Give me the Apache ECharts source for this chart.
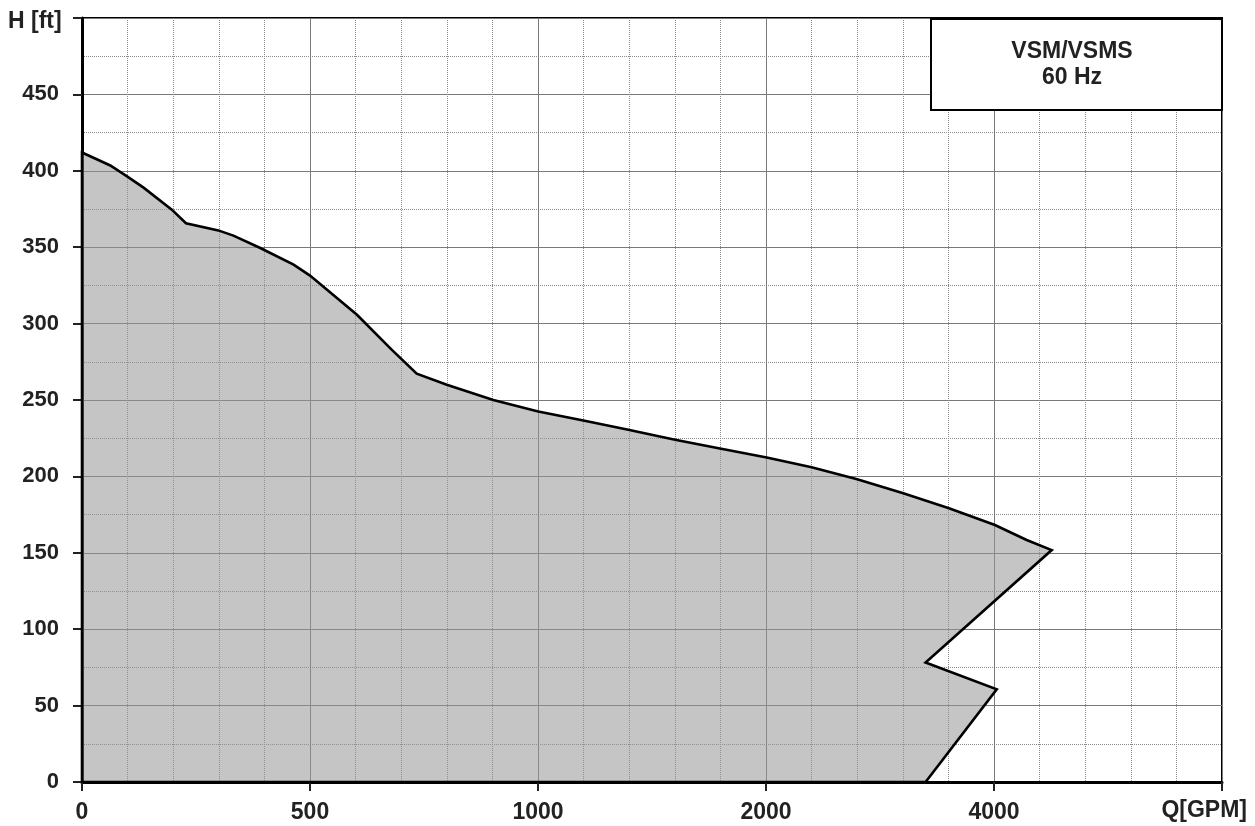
<!DOCTYPE html>
<html>
<head>
<meta charset="utf-8">
<script src="https://cdn.jsdelivr.net/npm/echarts@6/dist/echarts.min.js"></script>
<style>
html,body{margin:0;padding:0;background:#fff;}
#chart{width:1255px;height:826px;}
</style>
</head>
<body>
<div id="chart"></div>
<script>
// Flow axis break values (GPM): each consecutive pair occupies one equal-width axis segment
const flowBreaks = [0, 500, 1000, 2000, 4000, 8000];
const flowTickLabels = ['0', '500', '1000', '2000', '4000', ''];
const headTicks = [0, 50, 100, 150, 200, 250, 300, 350, 400, 450];

// Operating envelope outline (Q in GPM, H in ft), traced clockwise
const flowGPM = [0, 62, 98, 135, 197, 228, 299, 332, 391, 464, 500, 603, 679, 734, 800, 902, 1001, 1199, 1396, 1601, 1798, 2006, 2400, 2800, 3204, 3605, 4016, 4573, 5012, 3400, 4048, 3400, 0];
const headFt  = [412, 403.5, 396.5, 389, 374.6, 365.7, 361, 357.6, 349.5, 338.6, 331.4, 305.8, 283, 267.2, 260, 250, 242.5, 236.6, 230.5, 224, 218.2, 212.4, 206, 198.2, 189, 179.2, 168.2, 158.4, 151.8, 78.2, 60.7, 0, 0];

// piecewise scale: GPM -> axis segment units
function toAxis(q) {
  for (let i = 0; i < flowBreaks.length - 1; i++) {
    const a = flowBreaks[i], b = flowBreaks[i + 1];
    if (q <= b || i === flowBreaks.length - 2) return i + (q - a) / (b - a);
  }
}
const pts = flowGPM.map((q, i) => [toAxis(q), headFt[i]]);

const FONT = '"Liberation Sans", Arial, sans-serif';
const chart = echarts.init(document.getElementById('chart'), null, {renderer: 'canvas'});
chart.setOption({
  animation: false,
  backgroundColor: '#fff',
  grid: {left: 82, right: 33, top: 18, bottom: 44, show: true, borderColor: '#000', borderWidth: 2, backgroundColor: 'transparent'},
  xAxis: {
    type: 'value', min: 0, max: flowBreaks.length - 1, interval: 1,
    axisLine: {show: true, onZero: false, lineStyle: {color: '#000', width: 3}},
    axisTick: {show: true, length: 9, lineStyle: {color: '#222', width: 2}},
    axisLabel: {margin: 19, color: '#222', fontFamily: FONT, fontWeight: 'bold', fontSize: 23,
      formatter: v => flowTickLabels[Math.round(v)] || ''},
    splitLine: {show: true, lineStyle: {color: '#7a7a7a', width: 1}},
    minorTick: {show: false, splitNumber: 5},
    minorSplitLine: {show: true, lineStyle: {color: '#8a8a8a', width: 1, type: [1, 1]}}
  },
  yAxis: {
    type: 'value', min: 0, max: 500, interval: 50,
    axisLine: {show: true, onZero: false, lineStyle: {color: '#000', width: 3}},
    axisTick: {show: true, length: 9, lineStyle: {color: '#222', width: 2}},
    axisLabel: {margin: 23, color: '#222', fontFamily: FONT, fontWeight: 'bold', fontSize: 22,
      formatter: v => headTicks.indexOf(v) >= 0 ? String(v) : ''},
    splitLine: {show: true, lineStyle: {color: '#7a7a7a', width: 1}},
    minorTick: {show: false, splitNumber: 2},
    minorSplitLine: {show: true, lineStyle: {color: '#8a8a8a', width: 1, type: [1, 1]}}
  },
  series: [{
    type: 'custom',
    clip: false,
    data: [0],
    renderItem: function (params, api) {
      const coords = pts.map(p => api.coord(p));
      return {
        type: 'polygon',
        shape: {points: coords},
        style: {fill: 'rgba(150,150,150,0.55)', stroke: '#000', lineWidth: 2.6, lineJoin: 'miter'}
      };
    }
  }],
  graphic: [
    {type: 'rect', z: 100, shape: {x: 931, y: 19, width: 291, height: 91},
      style: {fill: '#fff', stroke: '#000', lineWidth: 2}},
    {type: 'text', z: 101, style: {text: 'VSM/VSMS', x: 1072, y: 52, textAlign: 'center', textVerticalAlign: 'middle',
      font: 'bold 23px ' + FONT, fill: '#222'}},
    {type: 'text', z: 101, style: {text: '60 Hz', x: 1072, y: 78, textAlign: 'center', textVerticalAlign: 'middle',
      font: 'bold 23px ' + FONT, fill: '#222'}},
    {type: 'text', z: 101, style: {text: 'H [ft]', x: 8, y: 22, textVerticalAlign: 'middle', font: 'bold 23px ' + FONT, fill: '#222'}},
    {type: 'text', z: 101, style: {text: 'Q[GPM]', x: 1247, y: 811, textAlign: 'right', textVerticalAlign: 'middle', font: 'bold 23px ' + FONT, fill: '#222'}}
  ]
});
</script>
</body>
</html>
